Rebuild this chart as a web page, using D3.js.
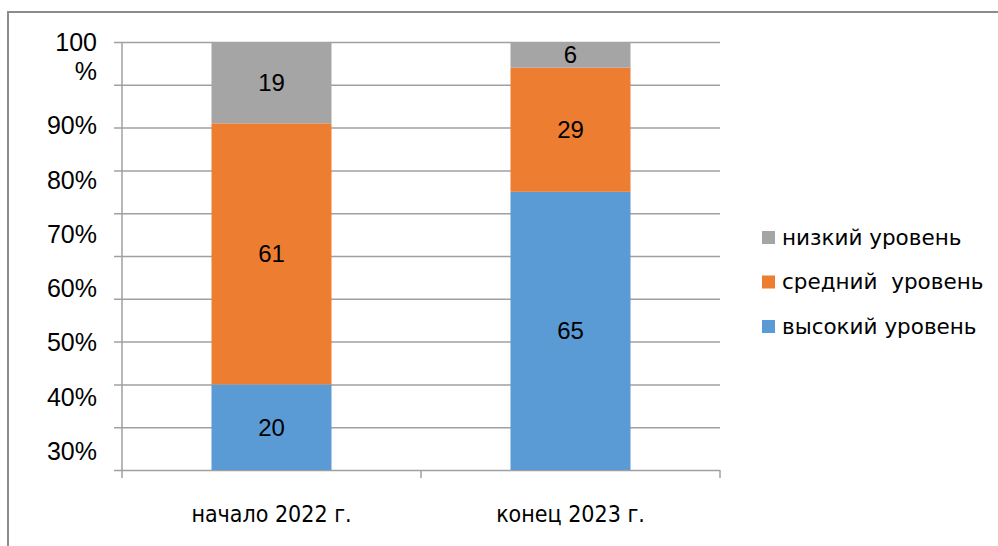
<!DOCTYPE html>
<html>
<head>
<meta charset="utf-8">
<script src="https://cdn.jsdelivr.net/npm/d3@7"></script>
<style>
    body { margin: 0; background: #fff; }
    svg { display: block; }
</style>
</head>
<body>
<svg class="chart"></svg>
<script>
var categories = ["начало 2022 г.", "конец 2023 г."];
var seriesNames = ["высокий уровень", "средний уровень", "низкий уровень"];
var legendNames = ["низкий уровень", "средний  уровень", "высокий уровень"];
var highValues = [20, 65];
var midValues = [61, 29];
var lowValues = [19, 6];
var tickLabels = ["30%", "40%", "50%", "60%", "70%", "80%", "90%", "100 %"];
var colors = {"высокий уровень": "#5B9BD5", "средний уровень": "#ED7D31", "низкий уровень": "#A5A5A5"};

var outerSize = {width: 998, height: 546};
var plot = {left: 122, right: 720, top: 42, bottom: 470};

var svg = d3.select(".chart")
        .attr("width", outerSize.width)
        .attr("height", outerSize.height);

// outer frame (runs past the right and bottom edge)
svg.append("rect")
        .attr("x", 8)
        .attr("y", 12)
        .attr("width", 1100)
        .attr("height", 700)
        .attr("fill", "#fff")
        .attr("stroke", "#8c8c8c")
        .attr("stroke-width", 2);

var xRange = d3.scaleBand()
        .domain(categories)
        .range([plot.left, plot.right])
        .paddingInner(0)
        .paddingOuter(0);

var yRange = d3.scaleLinear()
        .domain([0, 100])
        .range([plot.bottom, plot.top]);

// gridlines with outside tick marks
svg.append("g")
        .attr("class", "grid")
        .attr("transform", "translate(" + plot.right + ",0)")
        .call(d3.axisLeft(yRange).tickValues(d3.range(0, 101, 10))
                .tickSize(plot.right - plot.left + 8).tickFormat(""))
        .call(function (g) {
            g.select(".domain").remove();
            g.selectAll("line").attr("stroke", "#a0a0a0").attr("stroke-width", 1.5);
        });

// vertical axis line
svg.append("line")
        .attr("x1", plot.left).attr("x2", plot.left)
        .attr("y1", plot.top).attr("y2", plot.bottom + 8)
        .attr("stroke", "#a0a0a0")
        .attr("stroke-width", 1.5);

// category ticks
var catBounds = categories.map(function (c) { return xRange(c); }).concat([plot.right]);
svg.selectAll(".catTick")
        .data(catBounds.slice(1))
        .enter().append("line")
        .attr("class", "catTick")
        .attr("x1", function (d) { return d; })
        .attr("x2", function (d) { return d; })
        .attr("y1", plot.bottom)
        .attr("y2", plot.bottom + 8)
        .attr("stroke", "#a0a0a0")
        .attr("stroke-width", 1.5);

// y tick labels (spread as in the original)
var labelRange = d3.scalePoint()
        .domain(tickLabels)
        .range([451, 71]);
tickLabels.forEach(function (t) {
    var parts = t.split(" ");
    var txt = svg.append("text")
            .attr("x", 97)
            .attr("y", labelRange(t))
            .attr("text-anchor", "end")
            .attr("font-family", "Liberation Sans, Arial, sans-serif")
            .attr("font-size", 25)
            .attr("fill", "#000")
            .attr("dominant-baseline", "central");
    parts.forEach(function (p, i) {
        txt.append("tspan")
                .attr("x", 97)
                .attr("dy", i === 0 ? -(parts.length - 1) * 29 : 29)
                .text(p);
    });
});

// stacked bars
var rows = categories.map(function (c, i) {
    return {category: c, "высокий уровень": highValues[i], "средний уровень": midValues[i], "низкий уровень": lowValues[i]};
});
var stack = d3.stack().keys(seriesNames)(rows);
var barWidth = 120;

var layers = svg.selectAll(".layer")
        .data(stack)
        .enter().append("g")
        .attr("class", "layer")
        .attr("fill", function (s) { return colors[s.key]; });

layers.selectAll("rect")
        .data(function (s) { return s; })
        .enter().append("rect")
        .attr("x", function (d) { return xRange(d.data.category) + (xRange.bandwidth() - barWidth) / 2; })
        .attr("width", barWidth)
        .attr("y", function (d) { return yRange(d[1]); })
        .attr("height", function (d) { return yRange(d[0]) - yRange(d[1]); });

layers.selectAll(".valueLabel")
        .data(function (s) { return s; })
        .enter().append("text")
        .attr("class", "valueLabel")
        .attr("x", function (d) { return xRange(d.data.category) + xRange.bandwidth() / 2; })
        .attr("y", function (d) { return (yRange(d[0]) + yRange(d[1])) / 2; })
        .attr("text-anchor", "middle")
        .attr("dominant-baseline", "central")
        .attr("font-family", "Liberation Sans, Arial, sans-serif")
        .attr("font-size", 24)
        .attr("fill", "#000")
        .text(function (d) { return d[1] - d[0]; });

// category labels
svg.selectAll(".catLabel")
        .data(categories)
        .enter().append("text")
        .attr("class", "catLabel")
        .attr("x", function (c) { return xRange(c) + xRange.bandwidth() / 2; })
        .attr("y", 514)
        .attr("text-anchor", "middle")
        .attr("dominant-baseline", "central")
        .attr("font-family", "DejaVu Sans Condensed, DejaVu Sans, sans-serif")
        .attr("font-size", 23)
        .attr("fill", "#000")
        .text(function (c) { return c; });

// legend
var legendY = d3.scalePoint().domain(legendNames).range([237, 326]);
var legend = svg.selectAll(".legendItem")
        .data(legendNames)
        .enter().append("g")
        .attr("class", "legendItem")
        .attr("transform", function (n) { return "translate(762," + legendY(n) + ")"; });
legend.append("rect")
        .attr("x", 0)
        .attr("y", -6)
        .attr("width", 13)
        .attr("height", 13)
        .attr("fill", function (n) { return colors[n.replace(/\s+/g, " ")]; });
legend.append("text")
        .attr("x", 20)
        .attr("y", 0)
        .attr("dominant-baseline", "central")
        .attr("font-family", "DejaVu Sans, sans-serif")
        .attr("font-size", 21.5)
        .attr("fill", "#000")
        .attr("xml:space", "preserve")
        .style("white-space", "pre")
        .text(function (n) { return n; });
</script>
</body>
</html>
